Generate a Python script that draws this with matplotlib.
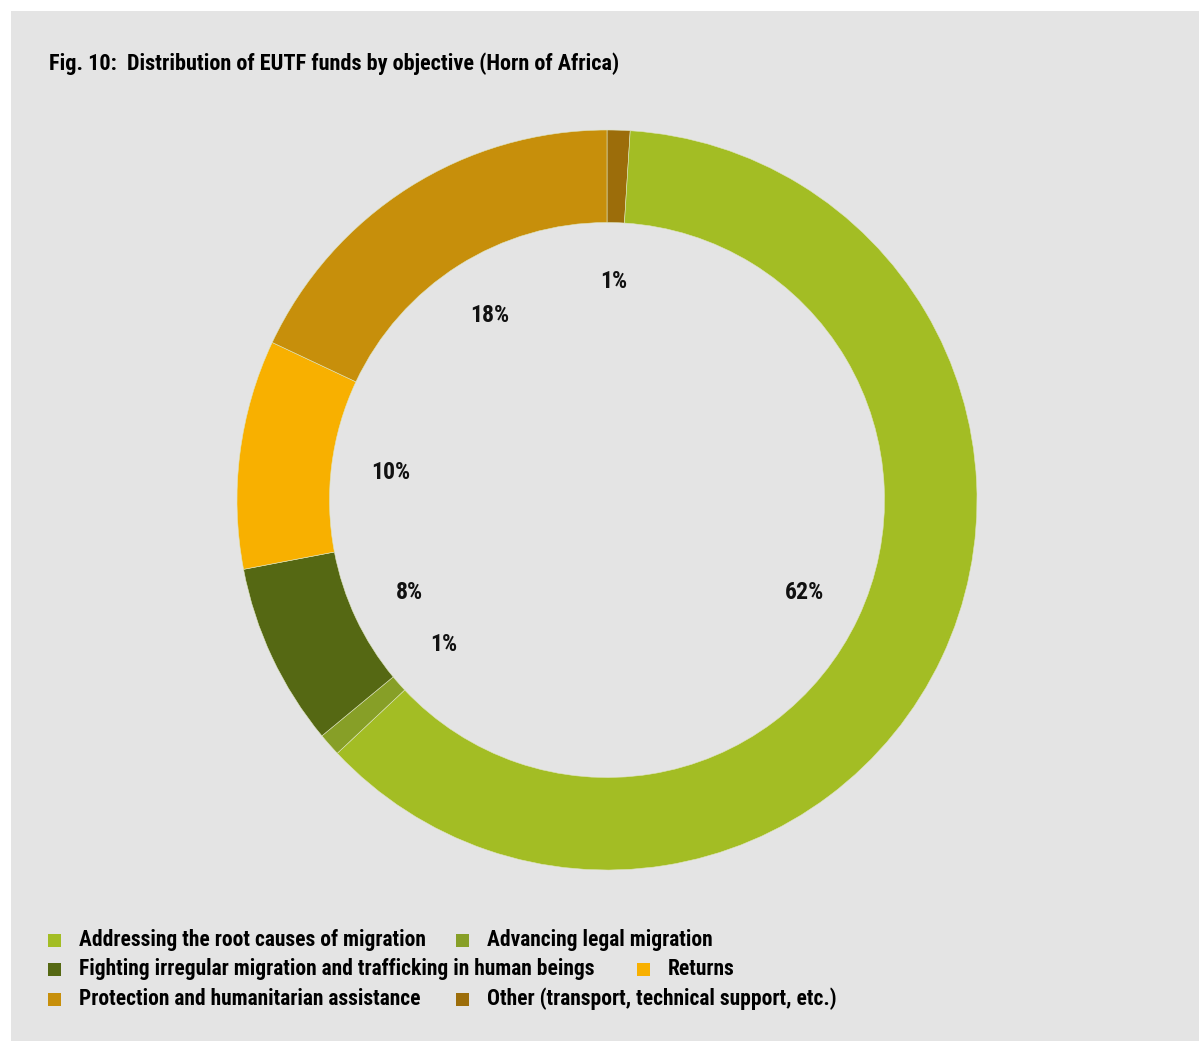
import matplotlib.pyplot as plt
from matplotlib import font_manager
from matplotlib.patches import Rectangle

categories = [
    "Other (transport, technical support, etc.)",
    "Addressing the root causes of migration",
    "Advancing legal migration",
    "Fighting irregular migration and trafficking in human beings",
    "Returns",
    "Protection and humanitarian assistance",
]
shares = [1, 62, 1, 8, 10, 18]
colors = ["#9c6d0a", "#a3bd24", "#879f27", "#556813", "#f8b000", "#c78f0b"]

# legend rows, in reading order
legend_rows = [
    ["Addressing the root causes of migration", "Advancing legal migration"],
    ["Fighting irregular migration and trafficking in human beings", "Returns"],
    ["Protection and humanitarian assistance", "Other (transport, technical support, etc.)"],
]

# prefer a narrow bold face when one is installed
installed = {f.name for f in font_manager.fontManager.ttflist}
condensed_files = [f for f in font_manager.fontManager.ttflist
                   if "Condensed" in f.fname or "Narrow" in f.fname]
FONT, STRETCH = ["DejaVu Sans"], "normal"
for name in ["Roboto Condensed", "Open Sans Condensed", "Liberation Sans Narrow"]:
    if name in installed:
        FONT = [name, "DejaVu Sans"]
        break
else:
    for f in condensed_files:
        if f.name in ("DejaVu Sans", "Open Sans", "Roboto", "Noto Sans", "Inter"):
            FONT, STRETCH = [f.name, "DejaVu Sans"], "condensed"
            break

BG = "#e4e4e4"
W, H = 1199, 1041

fig = plt.figure(figsize=(W / 100, H / 100), dpi=100, facecolor="white")
fig.patches.append(Rectangle((11 / W, 0), 1, 1 - 11 / H, transform=fig.transFigure,
                             facecolor=BG, edgecolor="none", zorder=-10))

txt = dict(fontweight="bold", family=FONT, fontstretch=STRETCH)


def fit(t, width_px):
    # shrink or grow a text until it spans the wanted width
    r = fig.canvas.get_renderer()
    w = t.get_window_extent(r).width
    t.set_fontsize(t.get_fontsize() * width_px / w)


title = fig.text(49 / W, 1 - 64 / H,
                 "Fig. 10:  Distribution of EUTF funds by objective (Horn of Africa)",
                 fontsize=13, va="center", ha="left", **txt)
fit(title, 568)

# donut
cx, cy, r = 607, 500, 370
ax = fig.add_axes([(cx - r) / W, (H - cy - r) / H, 2 * r / W, 2 * r / H])
ax.set_facecolor("none")
wedges, _, pct = ax.pie(
    shares, colors=colors, startangle=90, counterclock=False, radius=1,
    autopct="%.0f%%", pctdistance=0.59,
    wedgeprops=dict(width=0.25, edgecolor="#dfe5c0", linewidth=0.4),
    textprops=dict(fontsize=14, color="#111111", **txt),
)
fit(pct[1], 39)
for p in pct:
    p.set_fontsize(pct[1].get_fontsize())
ax.set_xlim(-1, 1)
ax.set_ylim(-1, 1)
ax.set_aspect("equal")
ax.axis("off")

# legend laid out in rows
color_of = dict(zip(categories, colors))
row_y = [940, 969, 999]
row_x = [[48, 456], [48, 637], [48, 456]]
sq = 13
legend_texts = []
for labels, y, xs in zip(legend_rows, row_y, row_x):
    for label, x in zip(labels, xs):
        fig.patches.append(Rectangle((x / W, 1 - (y + sq / 2) / H), sq / W, sq / H,
                                     transform=fig.transFigure, facecolor=color_of[label],
                                     edgecolor="none"))
        legend_texts.append(fig.text((x + 31) / W, 1 - y / H, label, fontsize=14,
                                     va="center", ha="left", **txt))
fit(legend_texts[0], 348)
for t in legend_texts[1:]:
    t.set_fontsize(legend_texts[0].get_fontsize())

fig.savefig("out.png", dpi=100, facecolor="white")
